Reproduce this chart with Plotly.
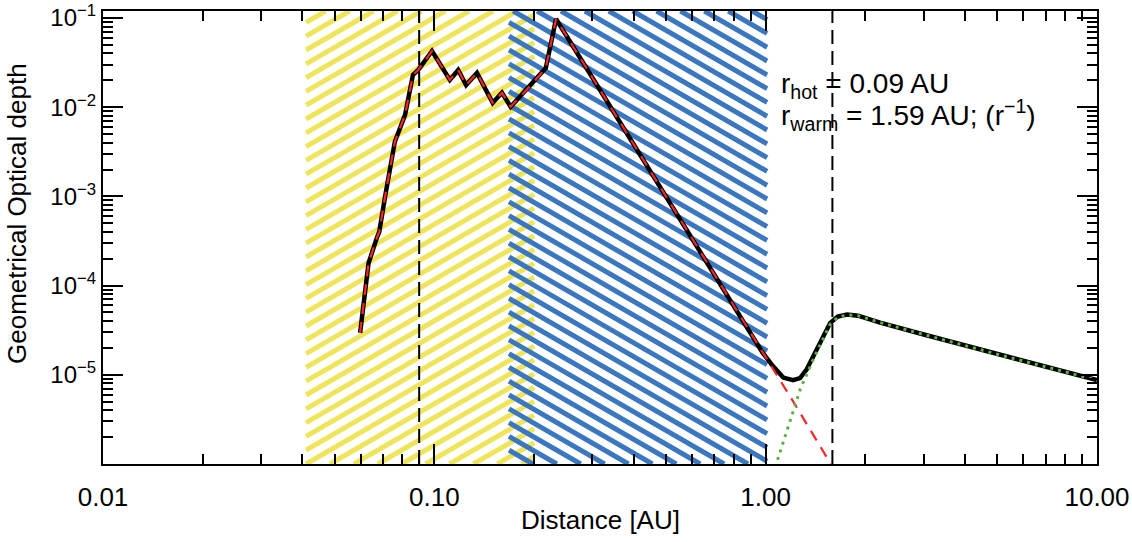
import numpy as np
import plotly.graph_objects as go

# ---------------- data ----------------
dist_total = [0.0597, 0.0633, 0.0670, 0.0682, 0.0710, 0.0760, 0.0816, 0.0862, 0.0893, 0.0984,
              0.1114, 0.118, 0.1247, 0.1345, 0.150, 0.160, 0.170, 0.1986, 0.217, 0.233,
              0.30, 0.40, 0.50, 0.70, 0.98, 1.05, 1.13, 1.21, 1.27, 1.33, 1.45, 1.565,
              1.65, 1.76, 1.90, 2.215, 3.0, 5.0, 10.0]
tau_total = [2.95e-5, 1.78e-4, 3.4e-4, 4.0e-4, 9.9e-4, 4.1e-3, 8.2e-3, 2.3e-2, 2.6e-2, 4.27e-2,
             2.02e-2, 2.61e-2, 1.77e-2, 2.42e-2, 1.12e-2, 1.45e-2, 1.01e-2, 1.87e-2, 2.75e-2, 9.75e-2,
             2.14e-2, 3.8e-3, 1.0e-3, 1.33e-4, 1.76e-5, 1.26e-5, 9.3e-6, 8.7e-6, 9.2e-6, 1.15e-5,
             2.1e-5, 3.8e-5, 4.5e-5, 4.75e-5, 4.6e-5, 3.85e-5, 2.83e-5, 1.7e-5, 8.7e-6]

dist_hot = [0.0597, 0.0633, 0.0670, 0.0682, 0.0710, 0.0760, 0.0816, 0.0862, 0.0893, 0.0984,
            0.1114, 0.118, 0.1247, 0.1345, 0.150, 0.160, 0.170, 0.1986, 0.217, 0.233,
            0.30, 0.40, 0.50, 0.70, 0.98, 1.20, 1.60]
tau_hot = [2.95e-5, 1.78e-4, 3.4e-4, 4.0e-4, 9.9e-4, 4.1e-3, 8.2e-3, 2.3e-2, 2.6e-2, 4.27e-2,
           2.02e-2, 2.61e-2, 1.77e-2, 2.42e-2, 1.12e-2, 1.45e-2, 1.01e-2, 1.87e-2, 2.75e-2, 9.75e-2,
           2.14e-2, 3.8e-3, 1.0e-3, 1.33e-4, 1.76e-5, 5.3e-6, 9.0e-7]

dist_warm = [1.05, 1.16, 1.27, 1.39, 1.50, 1.565, 1.65, 1.76, 1.90, 2.215, 3.0, 5.0, 10.0]
tau_warm = [7.5e-7, 2.4e-6, 6.8e-6, 1.47e-5, 2.7e-5, 3.7e-5, 4.4e-5, 4.7e-5, 4.6e-5, 3.85e-5,
            2.83e-5, 1.7e-5, 8.7e-6]

r_hot = 0.09
r_warm = 1.59
yellow_band = [0.041, 0.20]
blue_band = [0.168, 1.01]

x_tickvals = [0.01, 0.1, 1.0, 10.0]
x_ticktext = ["0.01", "0.10", "1.00", "10.00"]
y_tickvals = [1e-5, 1e-4, 1e-3, 1e-2, 1e-1]
y_ticktext = ["10<sup>\u22125</sup>", "10<sup>\u22124</sup>", "10<sup>\u22123</sup>",
              "10<sup>\u22122</sup>", "10<sup>\u22121</sup>"]

# ---------------- layout geometry ----------------
W, H = 1132, 542
ML, MR, MT, MB = 103, 35, 11, 78
XR = [-2.0, 1.0]
YR = [-6.0, -0.9216]
PW = W - ML - MR
PH = H - MT - MB
pxu = PW / (XR[1] - XR[0])
pyu = PH / (YR[1] - YR[0])

minor_x = [m * d for d in [0.01, 0.1, 1.0] for m in range(2, 10)]
minor_y = [m * d for d in [1e-6, 1e-5, 1e-4, 1e-3, 1e-2] for m in range(2, 10)]


def hatch(band, angle_deg, spacing_px):
    """Diagonal hatch segments covering a band (full height) in data coords."""
    s = np.tan(np.radians(angle_deg))
    X0 = (np.log10(band[0]) - XR[0]) * pxu
    X1 = (np.log10(band[1]) - XR[0]) * pxu
    xs, ys = [], []
    c0 = -s * X0
    for k in range(-200, 200):
        c = c0 + k * spacing_px
        if s > 0:
            a, b = (0 - c) / s, (PH - c) / s
        else:
            a, b = (PH - c) / s, (0 - c) / s
        lo, hi = max(a, X0), min(b, X1)
        if hi <= lo:
            continue
        for Xp in (lo, hi):
            Yp = s * Xp + c
            xs.append(10 ** (Xp / pxu + XR[0]))
            ys.append(10 ** (Yp / pyu + YR[0]))
        xs.append(None)
        ys.append(None)
    return xs, ys


fig = go.Figure()

yx, yy = hatch(yellow_band, 30, 13.8)
fig.add_trace(go.Scatter(x=yx, y=yy, mode="lines", line=dict(color="#EFE55A", width=5),
                         hoverinfo="skip", showlegend=False))
bx, by = hatch(blue_band, -30, 13.8)
fig.add_trace(go.Scatter(x=bx, y=by, mode="lines", line=dict(color="#3A77C0", width=5),
                         hoverinfo="skip", showlegend=False))

for r in (r_hot, r_warm):
    fig.add_trace(go.Scatter(x=[r, r], y=[10 ** YR[0], 10 ** YR[1]], mode="lines",
                             line=dict(color="black", width=2, dash="14px,7px"),
                             hoverinfo="skip", showlegend=False))

fig.add_trace(go.Scatter(x=dist_total, y=tau_total, mode="lines",
                         line=dict(color="black", width=4.5), showlegend=False))
fig.add_trace(go.Scatter(x=dist_hot, y=tau_hot, mode="lines",
                         line=dict(color="#F02828", width=2.2, dash="11px,8px"), showlegend=False))
fig.add_trace(go.Scatter(x=dist_warm, y=tau_warm, mode="lines",
                         line=dict(color="#5DB246", width=3, dash="3px,5px"), showlegend=False))

FONT = "Liberation Sans, Arial, Helvetica, sans-serif"
axis_common = dict(showline=True, linecolor="black", linewidth=2, mirror="ticks",
                   ticks="inside", ticklen=20, tickwidth=2, tickcolor="black",
                   showgrid=False, zeroline=False, tickmode="array")

fig.update_xaxes(type="log", range=XR, tickvals=x_tickvals, ticktext=x_ticktext,
                 tickfont=dict(family=FONT, size=26, color="black"), ticklabelstandoff=9,
                 minor=dict(ticks="inside", ticklen=10, tickwidth=2, tickcolor="black",
                            tickmode="array", tickvals=minor_x, showgrid=False),
                 **axis_common)
fig.update_yaxes(type="log", range=YR, tickvals=y_tickvals, ticktext=y_ticktext,
                 tickfont=dict(family=FONT, size=24, color="black"),
                 minor=dict(ticks="inside", ticklen=10, tickwidth=2, tickcolor="black",
                            tickmode="array", tickvals=minor_y, showgrid=False),
                 **axis_common)


def px_x(p):
    return (p - ML) / PW


def px_y(p):
    return (H - MB - p) / PH


annotations = [
    dict(text="Distance [AU]", x=0.5, y=px_y(520), xref="paper", yref="paper",
         showarrow=False, xanchor="center", yanchor="middle",
         font=dict(family=FONT, size=26, color="black")),
    dict(text="Geometrical Optical depth", x=px_x(17), y=px_y(214), xref="paper", yref="paper",
         showarrow=False, xanchor="center", yanchor="middle", textangle=-90,
         font=dict(family=FONT, size=26, color="black")),
    dict(text="r<sub>hot</sub> = 0.09 AU", x=px_x(779), y=px_y(86), xref="paper", yref="paper",
         showarrow=False, xanchor="left", yanchor="middle",
         font=dict(family=FONT, size=28, color="black")),
    dict(text="r<sub>warm</sub> = 1.59 AU; (r<sup>\u22121</sup>)", x=px_x(779), y=px_y(115),
         xref="paper", yref="paper", showarrow=False, xanchor="left", yanchor="middle",
         font=dict(family=FONT, size=28, color="black")),
]

fig.update_layout(width=W, height=H, margin=dict(l=ML, r=MR, t=MT, b=MB, autoexpand=False),
                  plot_bgcolor="white", paper_bgcolor="white", annotations=annotations,
                  font=dict(family=FONT, color="black"))

fig.write_html("out.html")
